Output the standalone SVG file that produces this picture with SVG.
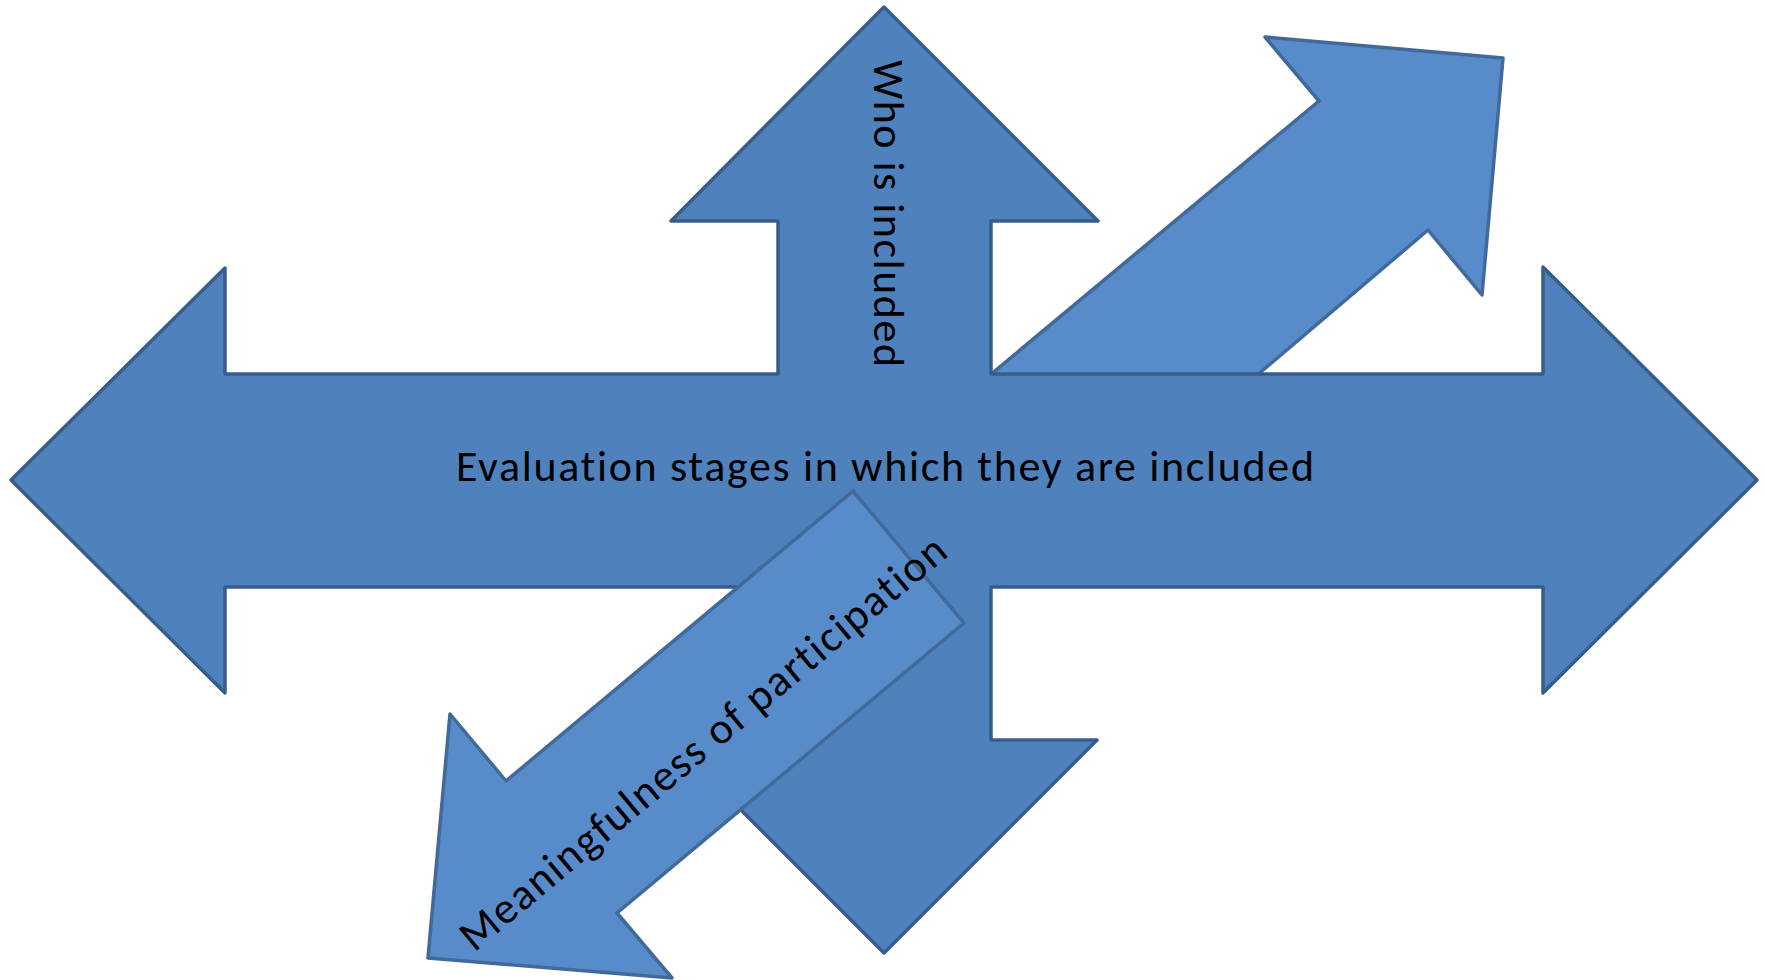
<svg xmlns="http://www.w3.org/2000/svg" width="1765" height="980" viewBox="0 0 1765 980">
<style>
.cross{fill:#4f81bd;stroke:#385d8a;stroke-width:3.5;stroke-linejoin:round}
.diag{fill:#588bca;stroke:#41699a;stroke-width:3.5;stroke-linejoin:round}
.lbl{font-family:Carlito,Calibri,Lato,"Liberation Sans",sans-serif;font-size:44px;fill:#000;font-variant-ligatures:none;font-feature-settings:"liga" 0,"clig" 0}
</style>
<rect width="1765" height="980" fill="#ffffff"/>
<g id="arrow-up-right">
<polygon class="diag" points="960,400 1319,101 1265,37 1503,58 1482,295 1428,230 1229,399"/>
</g>
<g id="quad-arrow">
<polygon class="cross" points="11,480 225,268 225,374 778,374 778,221 671,221 884,7 1098,221 991,221 991,374 1543,374 1543,267 1757,480 1543,693 1543,587 991,587 991,740 1097,740 884,953 671,740 778,740 778,587 225,587 225,693"/>
<text class="lbl" x="885" y="481" text-anchor="middle" textLength="858">Evaluation stages in which they are included</text>
</g>
<g id="who-label">
<text class="lbl" transform="translate(874,60) rotate(90)" x="0" y="0" textLength="307">Who is included</text>
</g>
<g id="arrow-down-left">
<polygon class="diag" points="853,491 964,623 617,913 672,978 428,958 450,714 506,781"/>
<text class="lbl" transform="translate(712,754) rotate(-39.9)" x="0" y="0" text-anchor="middle" textLength="620">Meaningfulness of participation</text>
</g>
</svg>
